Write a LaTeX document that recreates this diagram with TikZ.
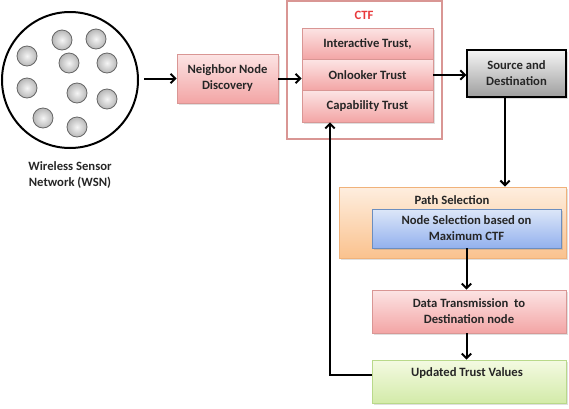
\documentclass[tikz,border=0pt]{standalone}
\usepackage{fontspec}
\setmainfont{Carlito}
\usetikzlibrary{arrows.meta,shadows}
\definecolor{pinktop}{HTML}{FCE4E4}
\definecolor{pinkbot}{HTML}{F3A5A5}
\definecolor{pinkline}{HTML}{D99694}
\definecolor{ctfred}{HTML}{E8393B}
\definecolor{bluetop}{HTML}{DDE7F8}
\definecolor{bluebot}{HTML}{93B1EE}
\definecolor{blueline}{HTML}{6C8EBF}
\definecolor{orgtop}{HTML}{FEEEDF}
\definecolor{orgbot}{HTML}{FAC28E}
\definecolor{orgline}{HTML}{F0B27A}
\definecolor{grntop}{HTML}{F4FAE2}
\definecolor{grnbot}{HTML}{D3EBA9}
\definecolor{grnline}{HTML}{B9D98A}
\begin{document}
\begin{tikzpicture}[x=0.75pt,y=-0.75pt,line width=1.5pt,
  every node/.style={font=\fontsize{9.5}{12}\selectfont\bfseries,text=black!85},
  box/.style={rectangle,draw,line width=0.6pt,align=center,
    drop shadow={opacity=0.25,shadow xshift=1.2pt,shadow yshift=-1.2pt}},
  pinkbox/.style={box,draw=pinkline,top color=pinktop,bottom color=pinkbot},
  sensor/.style={circle,draw=black!60,line width=0.6pt,minimum size=15pt,
    inner color=black!4,outer color=black!28},
  flow/.style={-{Straight Barb[length=3.5pt,width=7pt]}}]
 \useasboundingbox (0,0) rectangle (569,408);
 % sensor field
 \node (wsn) [circle,draw,minimum size=102pt] at (70,80) {};
 \foreach \sx/\sy [count=\i] in {62/40,96/39,27/56,69/63,107/63,
                                27/88,77/93,107/99,43/118,77/127}
   \node (s\i) [sensor] at (\sx,\sy) {};
 \node (wsnlbl) [align=center] at (70,175) {Wireless Sensor\\Network (WSN)};
 \node (ndisc) [pinkbox,minimum width=75.75pt,minimum height=36.75pt]
   at (227.5,78.5) {Neighbor Node\\Discovery};
 % CTF frame with its three trust rows
 \node (ctf) [rectangle,draw=pinkline,line width=0.8pt,minimum width=116.25pt,
   minimum height=103.5pt] at (364.5,70) {};
 \node (ctflbl) [text=ctfred] at (364,15) {CTF};
 \node (itr) [pinkbox,minimum width=98.25pt,minimum height=23.5pt]
   at (367.5,43.7) {Interactive Trust,};
 \node (onl) [pinkbox,minimum width=98.25pt,minimum height=23.5pt]
   at (367.5,75) {Onlooker Trust};
 \node (cap) [pinkbox,minimum width=98.25pt,minimum height=23.5pt]
   at (367.5,106.3) {Capability Trust};
 \node (src) [box,draw=black,line width=0.8pt,top color=black!4,
   bottom color=black!38,minimum width=74.25pt,minimum height=35.25pt]
   at (516.5,73.5) {Source and\\Destination};
 \node (path) [box,draw=orgline,top color=orgtop,bottom color=orgbot,
   minimum width=170.25pt,minimum height=53.25pt] at (452.5,222.5) {};
 \node (pathlbl) at (452,200) {Path Selection};
 \node (nsel) [box,draw=blueline,top color=bluetop,bottom color=bluebot,
   minimum width=141.75pt,minimum height=29.25pt]
   at (466.5,228.5) {Node Selection based on\\Maximum CTF};
 \node (data) [pinkbox,minimum width=145.5pt,minimum height=32.25pt]
   at (469,311.5) {Data Transmission\ \ to\\Destination node};
 \node (upd) [box,draw=grnline,top color=grntop,bottom color=grnbot,
   minimum width=145.5pt,minimum height=32.25pt] at (469,381.5) {};
 \node (updlbl) at (467,373) {Updated Trust Values};
 % connectors
 \draw[flow] ([xshift=4pt]ndisc.west -| wsn.east) -- (ndisc.west);
 \draw[flow] (ndisc.east) -- (ndisc.east -| onl.west);
 \draw[flow] (onl.east) -- (onl.east -| src.west);
 \draw[flow] ([xshift=-8.6pt]src.south) -- ([xshift=-8.6pt]src.south |- path.north);
 \draw[flow] (nsel.south) -- (nsel.south |- data.north);
 \draw[flow] (data.south -| nsel.south) -- (upd.north -| nsel.south);
 \draw[flow] ([yshift=4.9pt]upd.west) -| ([xshift=-28.1pt]cap.south);
\end{tikzpicture}
\end{document}
